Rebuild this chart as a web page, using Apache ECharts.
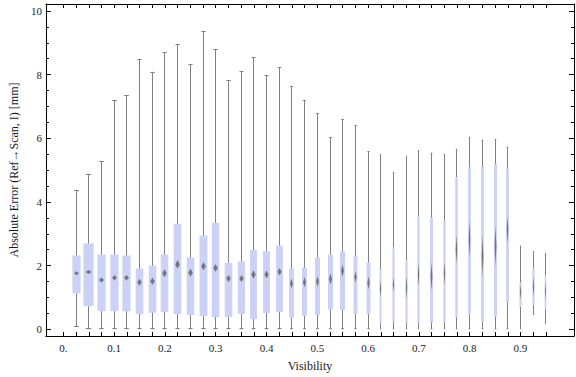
<!DOCTYPE html>
<html>
<head>
<meta charset="utf-8">
<script src="https://cdn.jsdelivr.net/npm/echarts@6/dist/echarts.min.js"></script>
<style>
html,body{margin:0;padding:0;background:#fff;}
#chart{width:576px;height:377px;}
</style>
</head>
<body>
<div id="chart"></div>
<script>
// ---- data ----
const visibility = [0.025,0.05,0.075,0.1,0.125,0.15,0.175,0.2,0.225,0.25,0.275,0.3,0.325,0.35,0.375,0.4,0.425,0.45,0.475,0.5,0.525,0.55,0.575,0.6,0.625,0.65,0.675,0.7,0.725,0.75,0.775,0.8,0.825,0.85,0.875,0.9,0.925,0.95];
const whiskerLow  = [0.08,0,0,0,0,0,0,0,0,0,0,0,0,0,0,0,0,0,0,0,0,0,0,0,0,0,0,0,0,0,0,0,0,0,0,0,0.45,0.16];
const q1          = [1.13,0.73,0.57,0.57,0.57,0.48,0.52,0.54,0.48,0.45,0.42,0.39,0.39,0.48,0.32,0.51,0.54,0.37,0.43,0.45,0.62,0.61,0.48,0.48,0.18,0.23,0.20,0.20,0.21,0.23,0.38,0.47,0.23,0.40,0.86,0.70,0.76,0.63];
const median      = [1.76,1.80,1.55,1.62,1.62,1.48,1.51,1.76,2.04,1.78,1.98,1.93,1.60,1.60,1.72,1.72,1.81,1.44,1.48,1.50,1.58,1.84,1.64,1.46,1.28,1.41,1.31,1.72,1.66,1.76,2.51,2.83,2.30,2.61,3.13,1.17,1.35,1.20];
const q3          = [2.32,2.70,2.35,2.35,2.32,1.91,2.00,2.35,3.32,2.26,2.95,3.35,2.09,2.13,2.49,2.45,2.63,1.91,1.94,2.26,2.35,2.45,2.32,2.10,1.90,2.58,2.19,3.55,3.51,3.42,4.78,5.10,5.11,5.19,5.05,1.46,1.92,1.70];
const whiskerHigh = [4.38,4.88,5.29,7.21,7.36,8.49,8.09,8.70,8.95,8.33,9.36,8.80,7.83,8.11,8.55,7.98,8.23,7.64,7.21,6.79,6.04,6.60,6.42,5.60,5.51,4.94,5.45,5.63,5.55,5.52,5.67,6.05,5.96,5.98,5.74,2.63,2.45,2.40];
// relative sample count (drives box width) and median confidence half-height
const relCount    = [0.81,1.0,0.81,0.81,0.81,0.75,0.75,0.75,0.75,0.75,0.78,0.75,0.75,0.71,0.68,0.68,0.68,0.49,0.49,0.49,0.49,0.49,0.39,0.39,0.20,0.22,0.22,0.22,0.29,0.22,0.25,0.27,0.28,0.29,0.28,0.22,0.22,0.17];
const medianCI    = [0.065,0.065,0.08,0.09,0.09,0.11,0.11,0.125,0.14,0.125,0.125,0.125,0.11,0.11,0.135,0.125,0.12,0.15,0.16,0.17,0.18,0.19,0.18,0.21,0.27,0.24,0.37,0.37,0.44,0.37,0.47,0.57,0.63,0.63,0.42,0.23,0.30,0.30];

// axis ticks / labels
const xTickValues = [0].concat(visibility);
const xLabelValues = [0,0.1,0.2,0.3,0.4,0.5,0.6,0.7,0.8,0.9];
const yMinorTicks = [0,0.5,1,1.5,2,2.5,3,3.5,4,4.5,5,5.5,6,6.5,7,7.5,8,8.5,9,9.5,10];
const yMajorTicks = [0,2,4,6,8,10];

const xName = 'Visibility';
const yName = 'Absolute Error (Ref\u2192Scan, I) [mm]';

const seriesData = visibility.map((v,i)=>[v, whiskerLow[i], q1[i], median[i], q3[i], whiskerHigh[i], relCount[i], medianCI[i]]);

const FONT = 'Liberation Serif';
const BOX = '#cbd2f5';
const WHISK = '#808080';
const MED = '#6c6c6c';

function renderItem(params, api){
  const x = api.value(0);
  const lo = api.coord([x, api.value(1)]);
  const b1 = api.coord([x, api.value(2)]);
  const md = api.coord([x, api.value(3)]);
  const b3 = api.coord([x, api.value(4)]);
  const hi = api.coord([x, api.value(5)]);
  const w = api.size([0.02*api.value(6), 0])[0];
  const nh = api.size([0, api.value(7)])[1];
  const cx = Math.round(lo[0]-0.5)+0.5;
  const cap = w*0.55;
  const lineStyle = {stroke: WHISK, lineWidth: 1};
  const children = [
    {type:'line', shape:{x1:cx, y1:lo[1], x2:cx, y2:hi[1]}, style:lineStyle},
    {type:'line', shape:{x1:cx-cap/2, y1:Math.round(hi[1])+0.5, x2:cx+cap/2, y2:Math.round(hi[1])+0.5}, style:lineStyle},
    {type:'line', shape:{x1:cx-cap/2, y1:Math.round(lo[1])-0.5, x2:cx+cap/2, y2:Math.round(lo[1])-0.5}, style:lineStyle},
    {type:'rect', shape:{x:cx-w/2, y:b3[1], width:w, height:b1[1]-b3[1]}, style:{fill:BOX}},
    {type:'polygon', shape:{points:[[cx, md[1]-nh],[cx+w*0.3, md[1]],[cx, md[1]+nh],[cx-w*0.3, md[1]]]}, style:{fill:MED, opacity:0.9}}
  ];
  return {type:'group', children};
}

const xMin = -0.0344, xMax = 1.0054, yMin = -0.21, yMax = 10.22;
const axisLineStyle = {show:true, onZero:false, lineStyle:{color:'#000', width:1}};

const chart = echarts.init(document.getElementById('chart'), null, {renderer:'svg'});
chart.setOption({
  animation:false,
  backgroundColor:'#fff',
  grid:{left:36, right:2, top:4, bottom:40, containLabel:false},
  xAxis:[
    {type:'value', position:'bottom', min:xMin, max:xMax,
     axisLine:axisLineStyle,
     axisTick:{show:true, inside:true, length:4, customValues:xTickValues, lineStyle:{color:'#000'}},
     axisLabel:{show:true, customValues:xLabelValues, margin:6, fontFamily:FONT, fontSize:11, color:'#1a1a1a',
       formatter:v=> v===0 ? '0.' : (Math.round(v*10)/10).toString()},
     splitLine:{show:false},
     name:xName, nameLocation:'middle', nameGap:24, nameTextStyle:{fontFamily:FONT, fontSize:12, color:'#1a1a1a'}},
    {type:'value', position:'top', min:xMin, max:xMax,
     axisLine:axisLineStyle,
     axisTick:{show:true, inside:true, length:4, customValues:xTickValues, lineStyle:{color:'#000'}},
     axisLabel:{show:false}, splitLine:{show:false}}
  ],
  yAxis:[
    {type:'value', position:'left', min:yMin, max:yMax,
     axisLine:axisLineStyle,
     axisTick:{show:true, inside:true, length:3, customValues:yMinorTicks, lineStyle:{color:'#000'}},
     axisLabel:{show:true, customValues:yMajorTicks, margin:4, fontFamily:FONT, fontSize:11, color:'#1a1a1a'},
     splitLine:{show:false},
     name:yName, nameLocation:'middle', nameGap:22, nameTextStyle:{fontFamily:FONT, fontSize:12, color:'#1a1a1a'}},
    {type:'value', position:'left', offset:0, min:yMin, max:yMax,
     axisLine:{show:false, onZero:false},
     axisTick:{show:true, inside:true, length:5, customValues:yMajorTicks, lineStyle:{color:'#000'}},
     axisLabel:{show:false}, splitLine:{show:false}},
    {type:'value', position:'right', offset:0, min:yMin, max:yMax,
     axisLine:axisLineStyle,
     axisTick:{show:true, inside:true, length:3, customValues:yMinorTicks, lineStyle:{color:'#000'}},
     axisLabel:{show:false}, splitLine:{show:false}},
    {type:'value', position:'right', offset:0, min:yMin, max:yMax,
     axisLine:{show:false, onZero:false},
     axisTick:{show:true, inside:true, length:5, customValues:yMajorTicks, lineStyle:{color:'#000'}},
     axisLabel:{show:false}, splitLine:{show:false}}
  ],
  series:[{
    type:'custom', xAxisIndex:0, yAxisIndex:0,
    renderItem, data:seriesData,
    encode:{x:0, y:[1,5]}, clip:false, silent:true
  }]
});
</script>
</body>
</html>
